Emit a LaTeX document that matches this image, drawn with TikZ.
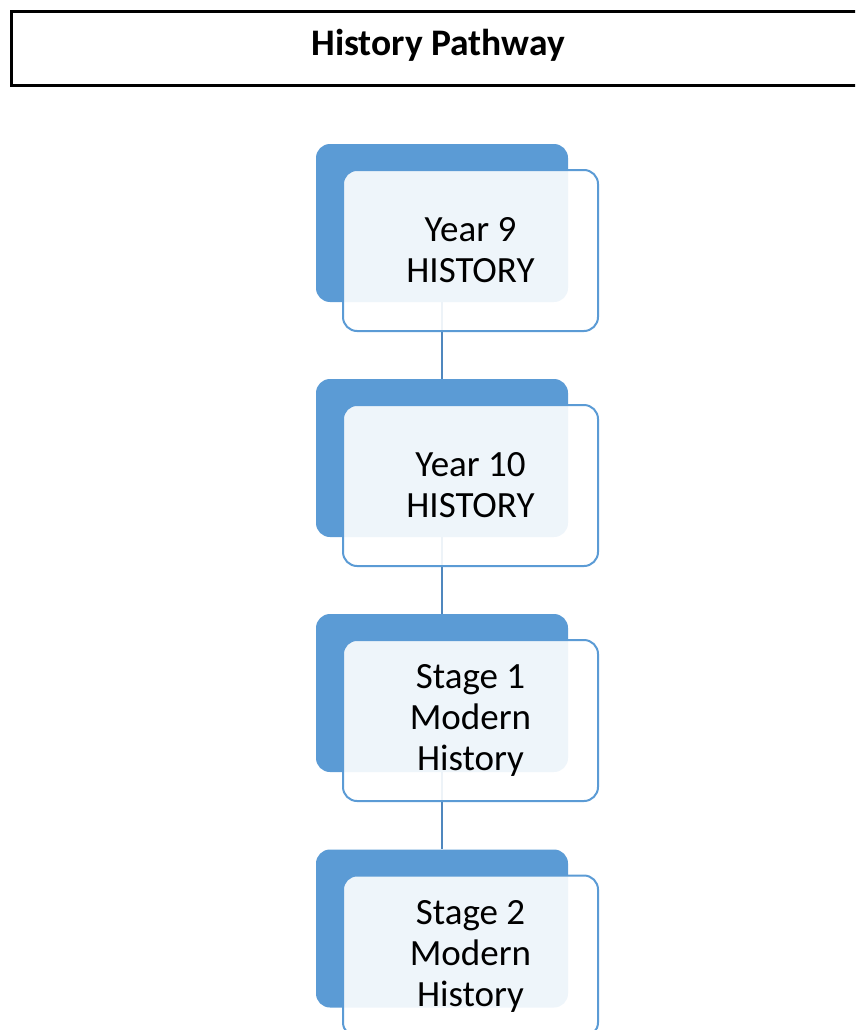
\documentclass[tikz,border=0pt]{standalone}
\usepackage{fontspec}
\setmainfont{Carlito}
\definecolor{cardblue}{HTML}{5B9BD5}
\definecolor{linkblue}{HTML}{4F87BE}
\begin{document}
\begin{tikzpicture}[x=1pt,y=-1pt,
  backcard/.style={fill=cardblue, draw=none, rounded corners=14pt,
    minimum width=252pt, minimum height=158pt, inner sep=0pt},
  frontcard/.style={fill=white, fill opacity=0.9, text opacity=1,
    draw=cardblue, line width=2pt, rounded corners=14pt,
    minimum width=255pt, minimum height=161pt, inner sep=0pt,
    align=center, font=\fontsize{37}{41}\selectfont},
  link/.style={draw=linkblue, line width=2pt},
  titlebox/.style={draw=black, line width=3pt, inner sep=0pt,
    minimum width=860pt, minimum height=74pt, anchor=north west},
  titletext/.style={font=\bfseries\fontsize{37.5}{42}\selectfont}
]
\useasboundingbox (0,0) rectangle (855,1030);
\clip (0,0) rectangle (855,1030);

% heading bar, running off the right edge
\node[titlebox] (title) at (10,10) {};
\node[titletext] (titlelabel) at (438,45) {History Pathway};

% solid cards behind
\node[backcard] (b1) at (442,223) {};
\node[backcard] (b2) at (442,458) {};
\node[backcard] (b3) at (442,693) {};
\node[backcard] (b4) at (442,928.5) {};

% links between consecutive steps
\draw[link] (b1.south) -- (b2.north);
\draw[link] (b2.south) -- (b3.north);
\draw[link] (b3.south) -- (b4.north);

% translucent cards in front
\node[frontcard] (f1) at (470.5,250.5) {Year 9\\HISTORY};
\node[frontcard] (f2) at (470.5,485.5) {Year 10\\HISTORY};
\node[frontcard] (f3) at (470.5,720.5) {Stage 1\\Modern\\History};
\node[frontcard] (f4) at (470.5,956) {Stage 2\\Modern\\History};
\end{tikzpicture}
\end{document}
